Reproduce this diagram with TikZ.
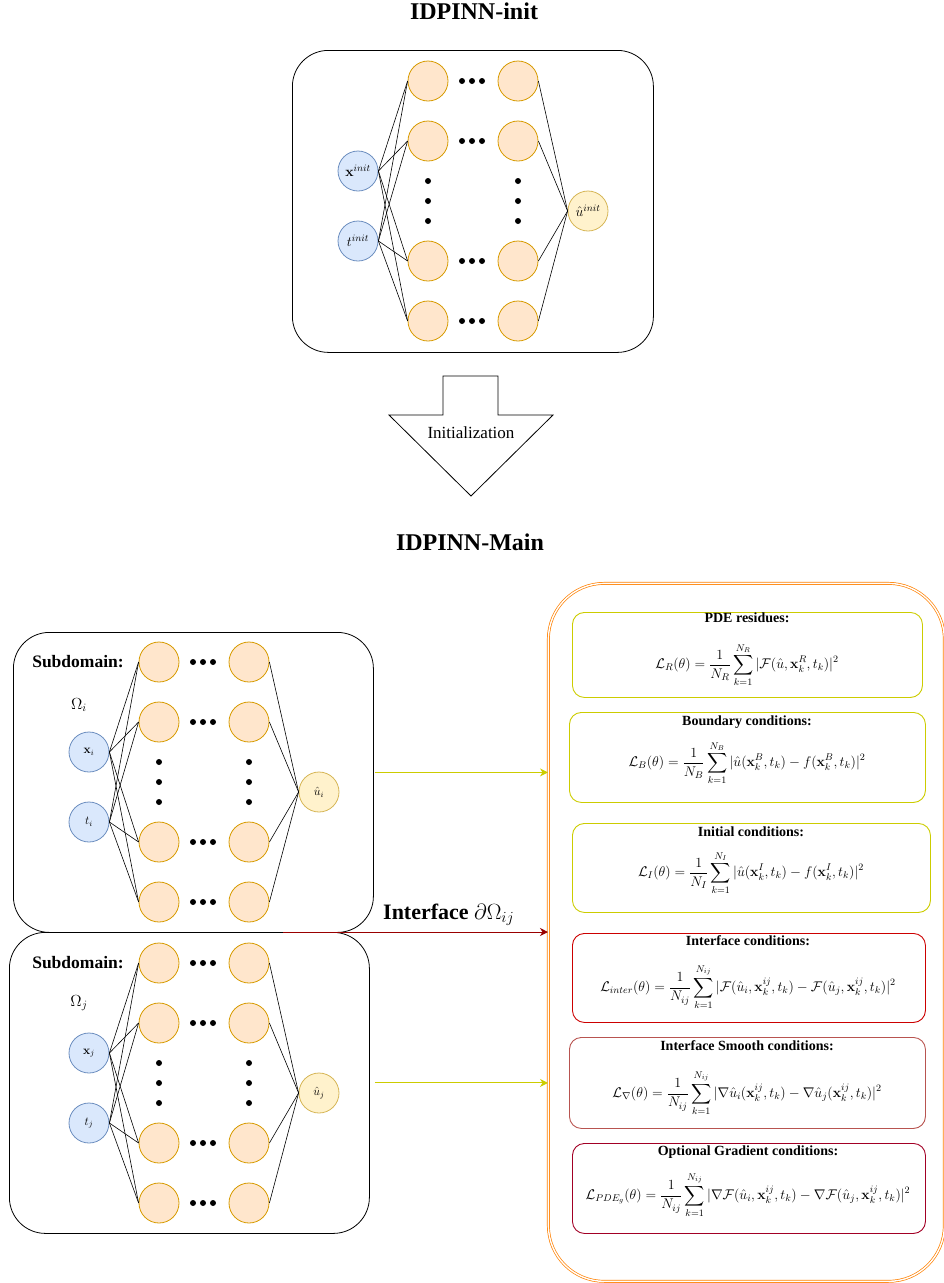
\RequirePackage{fix-cm}
\documentclass[tikz,border=0pt]{standalone}
\usepackage{amsmath}
\usepackage{amssymb}
\usepackage[no-math]{fontspec}
\setmainfont{Liberation Serif}
\usetikzlibrary{shapes,arrows.meta,positioning,calc}

\definecolor{inpfill}{HTML}{DAE8FC}
\definecolor{inpdraw}{HTML}{6C8EBF}
\definecolor{hidfill}{HTML}{FFE6CC}
\definecolor{hiddraw}{HTML}{D79B00}
\definecolor{outfill}{HTML}{FFF2CC}
\definecolor{outdraw}{HTML}{D6B656}
\definecolor{lossyellow}{HTML}{CCCC00}
\definecolor{lossred}{HTML}{CC0000}
\definecolor{lossrose}{HTML}{B85450}
\definecolor{lossdark}{HTML}{A20025}
\definecolor{ifred}{HTML}{990000}
\definecolor{lossorange}{HTML}{FF8000}

\begin{document}
\begin{tikzpicture}[x=1pt,y=-1pt,
    inp/.style={circle,draw=inpdraw,fill=inpfill,line width=0.8pt,minimum size=40pt,inner sep=0pt},
    hid/.style={circle,draw=hiddraw,fill=hidfill,line width=0.8pt,minimum size=40pt,inner sep=0pt},
    outp/.style={circle,draw=outdraw,fill=outfill,line width=0.8pt,minimum size=40pt,inner sep=0pt},
    dotmark/.style={circle,fill=black,minimum size=6pt,inner sep=0pt},
    wire/.style={line width=0.6pt},
    panel/.style={draw,line width=0.8pt,rounded corners=36pt,anchor=north west,inner sep=0pt},
    lossbox/.style={draw,line width=0.9pt,rounded corners=12pt,anchor=north west,inner sep=0pt},
    losstitle/.style={font=\fontsize{14}{16}\selectfont\bfseries,inner sep=0pt},
    lossformula/.style={font=\fontsize{14}{16}\selectfont,inner sep=0pt},
    heading/.style={font=\fontsize{24}{28}\selectfont\bfseries,inner sep=0pt},
    feed/.style={line width=1pt,-{Stealth[length=8pt,width=8pt,inset=2.5pt]}}]
    \useasboundingbox (0,0) rectangle (944,1283);

    % Headings
    \node[heading] (initttl) at (474,11) {IDPINN-init};
    \node[heading] (mainttl) at (470,542) {IDPINN-Main};

    % Panels
    \node[panel,minimum width=361pt,minimum height=302pt] (boxinit) at (292,50) {};
    \node[panel,minimum width=360pt,minimum height=300pt] (boxi) at (13,632) {};
    \node[panel,minimum width=360pt,minimum height=301pt] (boxj) at (9,932) {};

    % Networks
    \foreach \p/\ox/\oy/\xl/\tl/\ul/\fs in {
        nini/428/81/{\mathbf{x}^{init}}/{t^{init}}/{\hat{u}^{init}}/14,
        neti/159/662/{\mathbf{x}_i}/{t_i}/{\hat{u}_i}/12,
        netj/159/963/{\mathbf{x}_j}/{t_j}/{\hat{u}_j}/12} {
      \begin{scope}[shift={(\ox,\oy)},name prefix=\p-]
        \node[inp,font=\fontsize{\fs}{\fs}\selectfont] (x) at (-70,90) {$\xl$};
        \node[inp,font=\fontsize{\fs}{\fs}\selectfont] (t) at (-70,160) {$\tl$};
        \node[outp,font=\fontsize{\fs}{\fs}\selectfont] (u) at (160,130) {$\ul$};
        \foreach \r/\yy in {1/0,2/60,3/180,4/240} {
          \node[hid] (a\r) at (0,\yy) {};
          \node[hid] (b\r) at (90,\yy) {};
          \foreach \dx in {34,44,54}
            \node[dotmark] (h\r-\dx) at (\dx,\yy) {};
          \draw[wire] (x.east) -- (a\r.west);
          \draw[wire] (t.east) -- (a\r.west);
          \draw[wire] (b\r.east) -- (u.west);
        }
        \foreach \dy in {100,120,140} {
          \node[dotmark] (va\dy) at (0,\dy) {};
          \node[dotmark] (vb\dy) at (90,\dy) {};
        }
      \end{scope}
    }

    % Subdomain labels
    \node[font=\fontsize{17.5}{20}\selectfont\bfseries,inner sep=0pt] (sdilbl) at (78,662) {Subdomain:};
    \node[font=\fontsize{16}{18}\selectfont,inner sep=0pt] (omi) at (79,705) {$\Omega_i$};
    \node[font=\fontsize{17.5}{20}\selectfont\bfseries,inner sep=0pt] (sdjlbl) at (78,963) {Subdomain:};
    \node[font=\fontsize{16}{18}\selectfont,inner sep=0pt] (omj) at (79,1003) {$\Omega_j$};

    % Initialization arrow
    \draw[line width=0.8pt] (443,376) -- (498,376) -- (498,415) -- (553,415) -- (471,496)
        -- (389,415) -- (443,415) -- cycle;
    \node[font=\fontsize{17}{20}\selectfont,inner sep=0pt] (initlbl) at (471,433) {Initialization};

    % Loss panel
    \node[draw=lossorange,double=white,double distance=1.4pt,line width=0.7pt,rounded corners=56pt,
        anchor=north west,inner sep=0pt,minimum width=396pt,minimum height=698pt] (losses) at (548,583) {};

    \node[lossbox,draw=lossyellow,minimum width=350pt,minimum height=85pt] (lres) at (572,612) {};
    \node[losstitle] (lrest) at (747,618) {PDE residues:};
    \node[lossformula] (lresf) at (747,665)
      {$\displaystyle \mathcal{L}_R(\theta)=\frac{1}{N_R}\sum_{k=1}^{N_R}|\mathcal{F}(\hat{u},\mathbf{x}_k^R,t_k)|^2$};

    \node[lossbox,draw=lossyellow,minimum width=356pt,minimum height=90pt] (lbc) at (569,712) {};
    \node[losstitle] (lbct) at (747,722) {Boundary conditions:};
    \node[lossformula] (lbcf) at (747,763)
      {$\displaystyle \mathcal{L}_B(\theta)=\frac{1}{N_B}\sum_{k=1}^{N_B}|\hat{u}(\mathbf{x}_k^B,t_k)-f(\mathbf{x}_k^B,t_k)|^2$};

    \node[lossbox,draw=lossyellow,minimum width=358pt,minimum height=89pt] (lic) at (572,823) {};
    \node[losstitle] (lict) at (751,832) {Initial conditions:};
    \node[lossformula] (licf) at (751,873)
      {$\displaystyle \mathcal{L}_I(\theta)=\frac{1}{N_I}\sum_{k=1}^{N_I}|\hat{u}(\mathbf{x}_k^I,t_k)-f(\mathbf{x}_k^I,t_k)|^2$};

    \node[lossbox,draw=lossred,minimum width=353pt,minimum height=89pt] (lif) at (572,933) {};
    \node[losstitle] (lift) at (748,941) {Interface conditions:};
    \node[lossformula] (liff) at (748,987)
      {$\displaystyle \mathcal{L}_{inter}(\theta)=\frac{1}{N_{ij}}\sum_{k=1}^{N_{ij}}|\mathcal{F}(\hat{u}_i,\mathbf{x}_k^{ij},t_k)-\mathcal{F}(\hat{u}_j,\mathbf{x}_k^{ij},t_k)|^2$};

    \node[lossbox,draw=lossrose,minimum width=356pt,minimum height=91pt] (lsm) at (569,1037) {};
    \node[losstitle] (lsmt) at (747,1046) {Interface Smooth conditions:};
    \node[lossformula] (lsmf) at (747,1093)
      {$\displaystyle \mathcal{L}_{\nabla}(\theta)=\frac{1}{N_{ij}}\sum_{k=1}^{N_{ij}}|\nabla\hat{u}_i(\mathbf{x}_k^{ij},t_k)-\nabla\hat{u}_j(\mathbf{x}_k^{ij},t_k)|^2$};

    \node[lossbox,draw=lossdark,minimum width=353pt,minimum height=90pt] (lgr) at (572,1143) {};
    \node[losstitle] (lgrt) at (748,1152) {Optional Gradient conditions:};
    \node[lossformula] (lgrf) at (748,1195)
      {$\displaystyle \mathcal{L}_{PDE_g}(\theta)=\frac{1}{N_{ij}}\sum_{k=1}^{N_{ij}}|\nabla\mathcal{F}(\hat{u}_i,\mathbf{x}_k^{ij},t_k)-\nabla\mathcal{F}(\hat{u}_j,\mathbf{x}_k^{ij},t_k)|^2$};

    % Connections
    \coordinate (ifstart) at (283,932);
    \draw[feed,draw=lossyellow] ($(boxi.east)+(1,-10)$) coordinate (ai) -- (ai -| losses.west);
    \draw[feed,draw=ifred] (ifstart) -- (ifstart -| losses.west);
    \draw[feed,draw=lossyellow] ($(boxj.east)+(5,0)$) coordinate (aj) -- (aj -| losses.west);
    \node[font=\fontsize{22}{26}\selectfont\bfseries,inner sep=0pt,anchor=base west] (iflbl) at (383,919)
      {Interface $\partial\Omega_{ij}$};
\end{tikzpicture}
\end{document}
